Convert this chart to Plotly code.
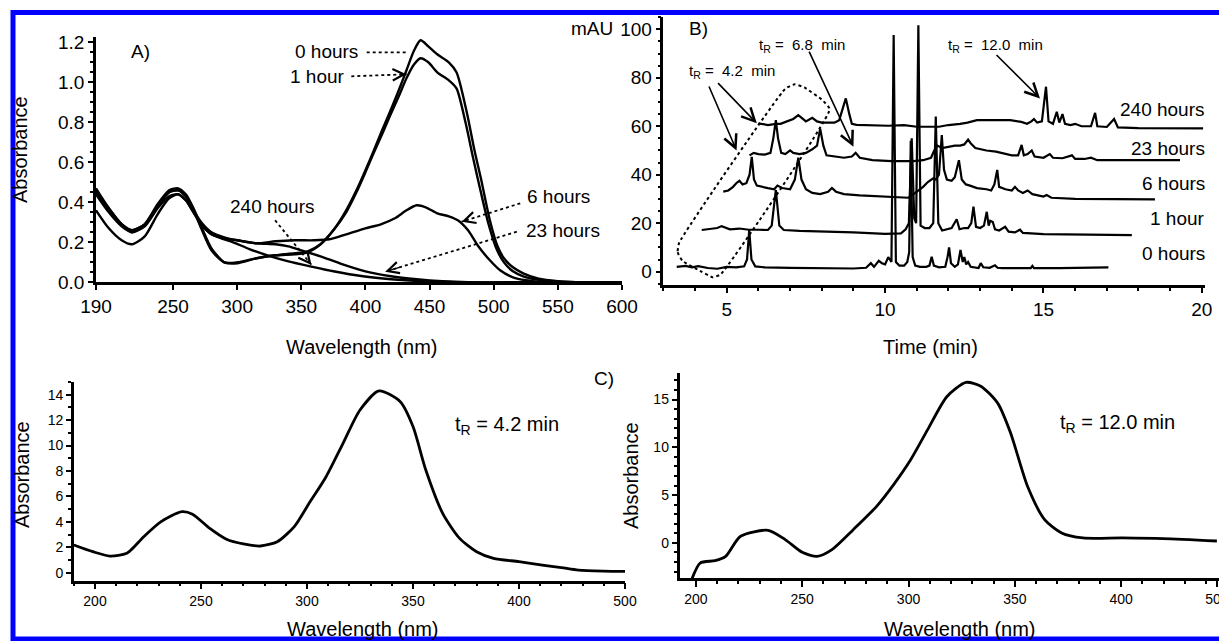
import plotly.graph_objects as go

W, H = 1219, 641
FONT = "Liberation Sans, Arial, sans-serif"

# ---------------- Panel A: UV-Vis spectra over time ----------------
a_wl_0h = [190,200,210,218,228,238,247,254,260,266,272,280,290,300,315,330,345,355,365,375,385,393,400,406,413,419,426,432,438,443,449,456,465,471,479,485,490,497,503,508,515,523,535,550,570,600]
a_abs_0h = [0.46,0.37,0.29,0.25,0.29,0.39,0.46,0.47,0.44,0.37,0.28,0.17,0.10,0.095,0.12,0.135,0.14,0.15,0.19,0.26,0.36,0.46,0.56,0.65,0.76,0.85,0.96,1.06,1.16,1.21,1.18,1.14,1.10,1.05,0.85,0.66,0.52,0.31,0.18,0.12,0.075,0.045,0.018,0.006,0.0,0.0]
a_wl_1h = [190,200,210,218,228,238,247,254,260,266,272,280,290,300,315,330,345,355,365,375,385,393,400,406,413,419,426,432,438,443,449,456,465,471,478,484,490,496,502,508,515,523,535,550,570,600]
a_abs_1h = [0.45,0.36,0.29,0.26,0.29,0.38,0.45,0.46,0.43,0.36,0.27,0.16,0.10,0.10,0.12,0.135,0.145,0.155,0.19,0.26,0.35,0.45,0.55,0.64,0.74,0.83,0.93,1.02,1.09,1.12,1.10,1.05,1.01,0.97,0.80,0.62,0.45,0.29,0.17,0.10,0.055,0.03,0.012,0.004,0.0,0.0]
a_wl_6h = [190,200,210,218,228,238,247,254,260,266,272,280,290,300,315,330,345,360,372,385,400,412,423,432,440,447,456,465,472,480,488,497,505,515,525,540,570,600]
a_abs_6h = [0.44,0.35,0.28,0.25,0.28,0.37,0.43,0.44,0.41,0.35,0.29,0.24,0.22,0.21,0.195,0.205,0.21,0.21,0.215,0.24,0.27,0.29,0.32,0.36,0.385,0.375,0.345,0.33,0.31,0.26,0.18,0.11,0.06,0.025,0.01,0.0,0.0,0.0]
a_wl_23h = [190,200,210,218,228,238,247,254,260,266,272,280,290,300,315,330,340,350,365,380,400,420,440,460,480,520,600]
a_abs_23h = [0.47,0.37,0.29,0.26,0.29,0.38,0.45,0.46,0.43,0.36,0.30,0.25,0.225,0.21,0.195,0.19,0.18,0.16,0.13,0.095,0.055,0.03,0.015,0.005,0.0,0.0,0.0]
a_wl_240h = [190,200,210,218,228,238,247,254,260,266,272,280,290,297,310,326,340,357,375,398,420,445,470,520,600]
a_abs_240h = [0.36,0.27,0.21,0.19,0.23,0.34,0.42,0.44,0.41,0.35,0.29,0.24,0.215,0.20,0.165,0.13,0.105,0.08,0.055,0.03,0.015,0.005,0.0,0.0,0.0]
a_xticks = [190, 250, 300, 350, 400, 450, 500, 550, 600]
a_yticks = [0.0, 0.2, 0.4, 0.6, 0.8, 1.0, 1.2]

# ---------------- Panel B: chromatograms (time, mAU) ----------------
b_0h = [(3.42,2.0),(3.7,2.4),(3.9,1.8),(4.1,2.3),(4.4,1.5),(4.7,1.2),(5.0,2.0),(5.3,1.8),(5.55,2.2),(5.64,5.0),(5.71,17.2),(5.78,5.0),(5.9,2.2),(6.2,1.8),(7.0,1.6),(8.0,1.4),(9.0,1.3),(9.4,1.6),(9.55,3.5),(9.65,2.0),(9.8,4.5),(9.9,3.5),(10.0,3.0),(10.1,6.0),(10.2,4.0),(10.27,97.6),(10.34,4.0),(10.45,2.5),(10.6,2.5),(10.7,4.0),(10.76,8.0),(10.81,54.0),(10.87,6.0),(10.95,2.5),(11.1,2.0),(11.3,2.0),(11.4,2.5),(11.47,6.2),(11.54,2.5),(11.7,1.8),(11.9,2.0),(11.97,6.0),(12.02,10.0),(12.08,3.5),(12.2,2.0),(12.3,3.0),(12.38,9.0),(12.45,4.0),(12.5,6.0),(12.56,3.0),(12.62,4.0),(12.7,2.0),(12.85,1.8),(12.95,1.5),(13.02,3.5),(13.1,1.8),(13.3,1.6),(13.47,2.6),(13.55,1.6),(13.7,1.5),(14.2,1.5),(14.6,1.5),(14.65,2.4),(14.7,1.5),(15.5,1.5),(16.2,1.6),(17.05,1.8)]
b_1h = [(4.21,17.2),(4.5,17.5),(4.7,18.0),(4.84,18.8),(4.95,18.2),(5.1,17.5),(5.4,17.8),(5.7,17.3),(6.0,17.3),(6.3,17.2),(6.42,19.0),(6.55,33.7),(6.66,19.0),(6.8,17.2),(7.3,16.8),(8.0,16.6),(9.0,16.2),(10.0,15.6),(10.5,15.8),(10.65,17.5),(10.75,20.0),(10.84,55.0),(10.92,22.0),(10.98,20.0),(11.05,101.7),(11.12,19.0),(11.25,18.0),(11.4,18.0),(11.52,20.0),(11.6,64.0),(11.68,20.0),(11.8,17.0),(12.0,17.5),(12.1,18.0),(12.26,21.6),(12.35,17.5),(12.5,18.0),(12.62,18.0),(12.72,20.0),(12.79,26.8),(12.87,18.5),(13.0,18.0),(13.12,19.0),(13.21,24.7),(13.27,19.0),(13.32,21.0),(13.4,20.5),(13.47,17.5),(13.6,17.0),(13.79,18.5),(13.9,16.5),(14.1,16.2),(14.26,17.3),(14.35,16.0),(15.0,15.5),(16.0,15.3),(17.79,15.1)]
b_6h = [(4.89,33.0),(5.05,33.5),(5.2,35.0),(5.3,36.5),(5.4,37.5),(5.5,36.0),(5.62,36.5),(5.72,40.0),(5.79,47.4),(5.86,38.0),(5.95,35.5),(6.1,35.0),(6.3,34.5),(6.5,34.0),(6.6,35.5),(6.75,34.5),(7.0,34.0),(7.15,38.0),(7.26,47.0),(7.36,38.0),(7.5,34.0),(7.7,32.5),(7.95,32.0),(8.2,33.0),(8.32,34.5),(8.45,33.0),(8.7,32.0),(9.2,31.5),(9.8,31.2),(10.3,30.8),(10.73,30.5),(10.85,31.5),(11.0,33.0),(11.2,35.0),(11.35,37.0),(11.52,38.5),(11.6,38.0),(11.7,40.0),(11.79,56.4),(11.86,42.0),(11.95,38.0),(12.1,37.5),(12.2,39.0),(12.33,46.0),(12.42,38.0),(12.55,36.0),(12.68,35.5),(12.9,34.5),(13.2,34.0),(13.35,33.5),(13.45,36.0),(13.54,42.0),(13.6,35.0),(13.8,34.0),(14.0,33.5),(14.1,35.0),(14.2,33.5),(14.35,32.5),(14.5,33.5),(14.65,32.0),(15.0,31.0),(15.1,31.6),(15.25,30.5),(16.0,30.0),(18.52,29.8)]
b_23h = [(5.72,48.0),(5.85,49.0),(6.0,48.5),(6.2,48.3),(6.38,49.0),(6.47,55.0),(6.55,62.5),(6.62,55.0),(6.72,49.0),(6.85,48.5),(7.0,50.0),(7.1,49.0),(7.3,48.5),(7.5,49.0),(7.7,50.5),(7.85,52.0),(7.95,59.0),(8.05,52.0),(8.15,48.0),(8.4,47.5),(8.7,47.0),(8.95,47.5),(9.07,49.0),(9.2,47.0),(9.6,46.0),(10.2,45.6),(10.73,45.4),(10.9,45.6),(11.2,46.0),(11.45,47.0),(11.55,50.0),(11.65,52.0),(11.8,51.0),(12.0,51.5),(12.2,52.0),(12.37,52.0),(12.5,52.5),(12.62,54.5),(12.7,53.0),(12.85,51.0),(13.0,50.5),(13.2,50.0),(13.5,49.5),(13.8,48.5),(14.0,48.0),(14.2,48.0),(14.31,52.3),(14.38,48.0),(14.5,48.5),(14.63,50.0),(14.72,47.5),(15.0,47.0),(15.2,48.5),(15.3,47.0),(15.6,46.8),(15.9,48.0),(16.0,46.5),(16.3,46.5),(16.5,47.0),(16.7,46.0),(19.31,46.0)]
b_240h = [(6.0,61.2),(6.3,60.5),(6.55,61.0),(6.7,61.0),(6.9,62.0),(7.1,63.0),(7.26,64.6),(7.4,63.0),(7.5,62.0),(7.7,63.5),(7.85,62.0),(8.0,61.5),(8.4,61.5),(8.55,62.5),(8.65,67.0),(8.76,71.5),(8.87,65.0),(8.95,61.0),(9.1,60.6),(9.5,60.5),(10.1,60.2),(10.6,60.5),(11.0,59.8),(11.7,59.8),(12.0,60.5),(12.37,61.0),(12.6,61.5),(12.9,62.5),(13.4,62.5),(13.95,62.5),(14.3,61.8),(14.48,61.0),(14.62,62.0),(14.7,63.0),(14.8,61.5),(14.95,62.0),(15.08,76.3),(15.16,62.0),(15.3,61.0),(15.42,66.0),(15.5,61.5),(15.6,65.0),(15.68,61.0),(15.85,60.5),(16.0,61.0),(16.2,60.0),(16.5,60.0),(16.63,65.5),(16.7,60.0),(17.0,59.7),(17.23,63.0),(17.35,59.5),(18.0,59.2),(20.04,59.1)]
b_lasso = [(3.5,12.0),(3.45,8.0),(3.6,4.5),(4.2,0.0),(4.55,-2.3),(4.8,-1.2),(8.25,67.0),(8.0,71.0),(7.45,76.0),(7.15,77.3),(6.85,75.5),(3.5,12.0)]
b_xticks = [5, 10, 15, 20]
b_yticks = [0, 20, 40, 60, 80, 100]
b_trace_labels = ["0 hours", "1 hour", "6 hours", "23 hours", "240 hours"]

# ---------------- Panel C: spectra of selected peaks ----------------
c1_wl = [190,199,207,215,223,231,241,246,254,262,270,278,286,294,301,309,317,325,334,344,350,356,364,372,380,388,400,422,440,456,480,500]
c1_abs = [2.18,1.65,1.31,1.52,2.83,4.0,4.8,4.6,3.5,2.63,2.26,2.1,2.44,3.62,5.46,7.55,10.18,12.8,14.3,13.45,11.5,8.1,4.67,2.7,1.65,1.13,0.87,0.6,0.4,0.2,0.12,0.1]
c2_wl = [198,202,209,214,221,234,242,250,257,264,274,285,293,301,309,318,327,334,342,348,356,364,372,382,401,444,500]
c2_abs = [-3.84,-2.1,-1.85,-1.4,0.7,1.32,0.35,-0.98,-1.4,-0.7,1.39,3.83,6.1,8.7,11.85,15.3,16.8,16.4,14.6,11.5,5.9,2.44,1.05,0.52,0.52,0.45,0.2]
c_xtick_wl = [200, 250, 300, 350, 400, 500]
c1_yticks = [0, 2, 4, 6, 8, 10, 12, 14]
c2_yticks = [0, 5, 10, 15]

# the C wavelength axes are compressed above 400 nm in the original figure
def c_axis(wl, squeeze):
    return [w if w <= 400 else 400 + (w - 400) * squeeze for w in wl]

C1_SQ, C2_SQ = 0.5, 0.45

def px(x):
    return x / W

def py(y):
    return 1 - y / H

fig = go.Figure()

for wl, ab in [(a_wl_0h, a_abs_0h), (a_wl_1h, a_abs_1h), (a_wl_6h, a_abs_6h),
               (a_wl_23h, a_abs_23h), (a_wl_240h, a_abs_240h)]:
    fig.add_trace(go.Scatter(x=wl, y=ab, mode="lines", line=dict(color="black", width=2.4, shape="spline", smoothing=0.7),
                             xaxis="x", yaxis="y", showlegend=False, hoverinfo="skip"))

for tr in [b_0h, b_1h, b_6h, b_23h, b_240h]:
    fig.add_trace(go.Scatter(x=[p[0] for p in tr], y=[p[1] for p in tr], mode="lines",
                             line=dict(color="black", width=2.2), xaxis="x2", yaxis="y2",
                             showlegend=False, hoverinfo="skip"))
fig.add_trace(go.Scatter(x=[p[0] for p in b_lasso], y=[p[1] for p in b_lasso], mode="lines",
                         line=dict(color="black", width=2, dash="dot", shape="spline", smoothing=0.4),
                         xaxis="x2", yaxis="y2", showlegend=False, hoverinfo="skip"))

fig.add_trace(go.Scatter(x=c_axis(c1_wl, C1_SQ), y=c1_abs, mode="lines",
                         line=dict(color="black", width=2.8, shape="spline", smoothing=0.7),
                         xaxis="x3", yaxis="y3", showlegend=False, hoverinfo="skip"))
fig.add_trace(go.Scatter(x=c_axis(c2_wl, C2_SQ), y=c2_abs, mode="lines",
                         line=dict(color="black", width=2.8, shape="spline", smoothing=0.7),
                         xaxis="x4", yaxis="y4", showlegend=False, hoverinfo="skip"))

def axis(domain, rng, tickvals, ticktext=None, size=19, minor=None, **kw):
    d = dict(domain=domain, range=rng, tickvals=tickvals, showgrid=False, zeroline=False,
             showline=True, linecolor="black", linewidth=2.5, ticks="outside", ticklen=5,
             tickwidth=2, tickcolor="black", tickfont=dict(family=FONT, size=size, color="black"),
             fixedrange=True, automargin=False, ticklabeloverflow="allow")
    if ticktext is not None:
        d["ticktext"] = ticktext
    if minor is not None:
        d["minor"] = dict(dtick=minor, ticks="outside", ticklen=3, tickwidth=1.5, tickcolor="black")
    d.update(kw)
    return d

fig.update_layout(
    width=W, height=H, margin=dict(l=0, r=0, t=0, b=0, pad=0), autosize=False,
    paper_bgcolor="white", plot_bgcolor="white",
    font=dict(family=FONT, color="black"),
    xaxis=axis([px(96), px(622)], [190, 600], a_xticks, anchor="y"),
    yaxis=axis([py(282.3), py(37)], [0, 1.2265], a_yticks, [f"{v:.1f}" for v in a_yticks], minor=0.05, anchor="x"),
    xaxis2=axis([px(663.4), px(1205)], [3, 20.1], b_xticks, minor=1, anchor="y2"),
    yaxis2=axis([py(285), py(16.7)], [-5.5, 105.2], b_yticks, minor=5, anchor="x2"),
    xaxis3=axis([px(73.8), px(625)], [190, 450], c_axis(c_xtick_wl, C1_SQ), [str(v) for v in c_xtick_wl],
                size=14, minor=10, anchor="y3", ticklen=6),
    yaxis3=axis([py(580.7), py(382)], [-0.63, 15.0], c1_yticks, size=14, minor=1, anchor="x3"),
    xaxis4=axis([px(679.5), 1.0], [192.3, 446], c_axis(c_xtick_wl, C2_SQ), [str(v) for v in c_xtick_wl],
                size=14, minor=10, anchor="y4", ticklen=6),
    yaxis4=axis([py(578.3), py(372.8)], [-3.7, 17.8], c2_yticks, size=14, minor=1, anchor="x4"),
)

ann = []
def text(x, y, s, size=19, **kw):
    d = dict(x=px(x), y=py(y), xref="paper", yref="paper", text=s, showarrow=False,
             xanchor="center", yanchor="middle",
             font=dict(family=FONT, size=size, color="black"))
    d.update(kw)
    ann.append(d)

# axis titles and panel letters
text(20, 150, "Absorbance", 20, textangle=-90)
text(362, 347, "Wavelength (nm)", 20)
text(930, 347, "Time (min)", 20)
text(22, 475, "Absorbance", 20, textangle=-90)
text(363, 629, "Wavelength (nm)", 20)
text(631, 475, "Absorbance", 20, textangle=-90)
text(960, 629, "Wavelength (nm)", 20)
text(140, 51.7, "A)", 19)
text(698, 28.3, "B)", 19)
text(604, 378, "C)", 19)
text(592, 28, "mAU", 19)

# Panel A curve labels
text(326, 51.7, "0 hours", 19)
text(317, 76, "1 hour", 19)
text(272, 206.7, "240 hours", 19)
text(558, 196.7, "6 hours", 19)
text(563, 230, "23 hours", 19)

# Panel B trace labels (right aligned)
for lab, yy in zip(b_trace_labels, [253.3, 218.3, 183.3, 148.3, 110]):
    text(1207, yy, lab, 19, xanchor="right")

# Panel C labels
text(507, 425, "t<sub>R</sub> = 4.2 min", 20)
text(1117, 423, "t<sub>R</sub> = 12.0 min", 20)

# Panel B retention labels (data coords)
for tx, ty, s in [(5.16, 82.5, "t<sub>R</sub> =  4.2  min"), (7.37, 93.5, "t<sub>R</sub> =  6.8  min"),
                  (13.47, 93.5, "t<sub>R</sub> =  12.0  min")]:
    ann.append(dict(x=tx, y=ty, xref="x2", yref="y2", text=s, showarrow=False,
                    xanchor="center", yanchor="middle",
                    font=dict(family=FONT, size=15, color="black")))

# solid arrows in B
for (x0, y0), (x1, y1) in [((4.42, 77), (5.31, 50)), ((4.68, 78.4), (5.95, 61.2)),
                           ((7.58, 91.4), (9.0, 51.5)), ((13.47, 90), (14.89, 71.5))]:
    ann.append(dict(x=x1, y=y1, ax=x0, ay=y0, xref="x2", yref="y2", axref="x2", ayref="y2",
                    text="", showarrow=True, arrowhead=5, arrowsize=1.6, arrowwidth=1.6, arrowcolor="black"))

shapes = []
# dotted arrows in A
for (x0, y0), (x1, y1) in [((401, 1.15), (432, 1.15)), ((389, 1.03), (432, 1.04)),
                           ((520.7, 0.395), (475, 0.303)), ((518, 0.253), (415.4, 0.053)),
                           ((329.6, 0.31), (358, 0.087))]:
    shapes.append(dict(type="line", xref="x", yref="y", x0=x0, y0=y0, x1=x1, y1=y1,
                       line=dict(color="black", width=1.8, dash="dot")))
    f = 0.12
    ann.append(dict(x=x1, y=y1, ax=x1 - f * (x1 - x0), ay=y1 - f * (y1 - y0), xref="x", yref="y",
                    axref="x", ayref="y", text="", showarrow=True, arrowhead=5, arrowsize=1.6,
                    arrowwidth=1.4, arrowcolor="black"))

# blue frame
shapes.append(dict(type="line", xref="paper", yref="paper", x0=px(11), x1=1.0, y0=py(12.5), y1=py(12.5),
                   line=dict(color="#0000FF", width=5)))
shapes.append(dict(type="line", xref="paper", yref="paper", x0=px(13), x1=px(13), y0=py(10), y1=py(641),
                   line=dict(color="#0000FF", width=5)))
shapes.append(dict(type="line", xref="paper", yref="paper", x0=px(11), x1=1.0, y0=py(639), y1=py(639),
                   line=dict(color="#0000FF", width=5)))

fig.update_layout(annotations=ann, shapes=shapes)
fig.write_html("out.html", config={"displayModeBar": False},
               post_script="document.body.style.margin='0';document.body.style.overflow='hidden';")
